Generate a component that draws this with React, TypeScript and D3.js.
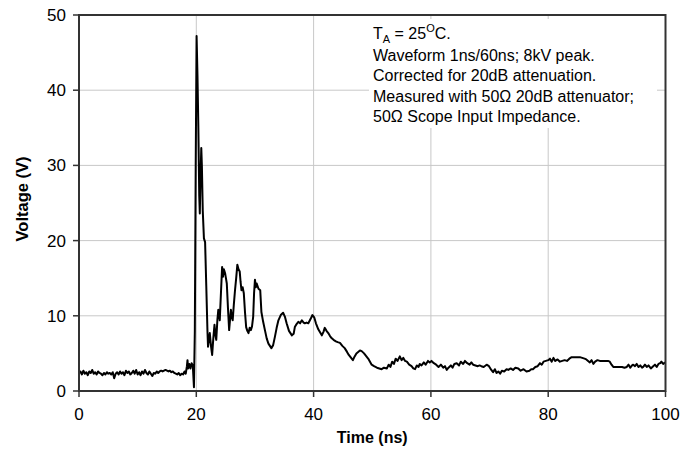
import { line, scaleLinear } from 'd3';

// waveform samples as [time (ns), voltage (V)]
const baseline: [number, number][] = [
  [0, 2.4], [0.25, 2.6], [0.5, 2.2], [0.75, 2.7], [1, 2.3], [1.25, 2.5], [1.5, 2.1], [1.75, 2.6],
  [2, 2.4], [2.25, 2.8], [2.5, 2.3], [2.75, 2.5], [3, 2.2], [3.25, 2.6], [3.5, 2.4], [3.75, 2.3],
  [4, 2.1], [4.25, 2.4], [4.5, 2.2], [4.75, 2.5], [5, 2.3], [5.25, 2.4], [5.5, 2.2], [5.75, 2.5],
  [6, 1.7], [6.25, 2.3], [6.5, 2.5], [6.75, 2.2], [7, 2.6], [7.25, 2.3], [7.5, 2.5], [7.75, 2.1],
  [8, 2.7], [8.25, 2.4], [8.5, 2.6], [8.75, 2.2], [9, 2.4], [9.25, 2.7], [9.5, 2.3], [9.75, 2.8],
  [10, 2.2], [10.25, 2.5], [10.5, 2.1], [10.75, 2.6], [11, 2.3], [11.25, 2.8], [11.5, 2.4], [11.75, 2.2],
  [12, 2.6], [12.25, 2.3], [12.5, 2.0], [12.75, 2.4], [13, 2.3], [13.25, 2.6], [13.5, 2.4], [13.75, 2.6],
  [14, 2.7], [14.25, 2.6], [14.5, 2.7], [14.75, 2.8], [15, 2.7], [15.25, 2.6], [15.5, 2.7], [15.75, 2.5],
  [16, 2.6], [16.25, 2.4], [16.5, 2.3], [16.75, 2.2], [17, 2.4], [17.25, 2.1], [17.5, 2.3], [17.75, 2.2],
  [18, 2.6], [18.2, 2.3], [18.4, 3.3], [18.5, 4.1], [18.6, 3.0], [18.8, 3.6], [19, 3.0], [19.2, 3.7],
  [19.4, 3.4], [19.6, 0.5],
];

const pulse: [number, number][] = [
  [19.75, 8], [19.9, 30], [20.05, 47.2], [20.2, 42], [20.35, 35], [20.5, 26], [20.6, 23.6], [20.7, 28],
  [20.85, 32.3], [20.95, 30], [21.1, 24], [21.3, 20.3], [21.5, 19.8], [21.7, 14], [21.9, 8], [22.0, 5.9],
  [22.15, 6.8], [22.3, 7.7], [22.5, 6], [22.7, 4.8], [22.9, 7], [23.1, 8.8], [23.25, 7.5], [23.4, 6.8],
  [23.6, 9.5], [23.75, 10.8], [23.9, 10.2], [24.0, 9.4], [24.2, 13], [24.4, 16.5], [24.55, 15.2], [24.7, 16.2],
  [24.9, 15.7], [25.05, 15], [25.2, 14.3], [25.4, 11], [25.6, 8.1], [25.75, 9.5], [25.9, 10.8], [26.05, 9.8],
  [26.2, 9.4], [26.4, 11.5], [26.6, 13.4], [26.8, 15], [27.0, 16.8], [27.2, 16.2], [27.4, 15.9], [27.55, 14.5],
  [27.7, 13.4], [27.9, 13.8], [28.1, 13], [28.3, 10.5], [28.5, 8.5], [28.7, 8.0], [28.9, 7.7], [29.1, 8.4],
  [29.3, 8.1], [29.5, 8.6], [29.7, 9.9], [29.85, 13], [30.0, 14.8], [30.15, 13.8], [30.3, 14.3], [30.6, 13.6],
  [30.9, 13.4], [31.1, 10.5], [31.4, 9.2], [31.7, 8.1], [32.0, 7],
];

const ringing: [number, number][] = [
  [32.3, 6.3], [32.8, 5.7], [33.1, 6.1], [33.4, 7.2], [33.7, 8.4], [34.0, 9.4], [34.4, 10.1], [34.8, 10.4],
  [35.1, 9.9], [35.4, 9.0], [35.8, 8.0], [36.3, 7.4], [36.6, 7.6], [36.8, 8.5], [37.1, 8.9], [37.4, 9.2],
  [37.7, 9.0], [38.0, 9.4], [38.3, 9.1], [38.5, 9.0], [38.8, 9.1], [39.1, 9.0], [39.5, 9.6], [39.8, 10.1],
  [40.1, 9.8], [40.4, 9.0], [40.8, 8.2], [41.1, 7.8], [41.4, 7.4], [41.7, 7.9], [41.9, 8.4], [42.2, 8.0],
  [42.5, 7.7], [42.8, 7.3], [43.1, 7.0], [43.4, 6.8], [43.8, 6.6], [44.1, 6.5], [44.5, 6.4], [44.9, 6.0],
  [45.3, 5.7], [45.7, 5.2], [46.0, 4.8], [46.4, 4.4], [46.7, 4.1], [47.0, 4.6], [47.3, 5.0], [47.6, 5.2],
  [47.9, 5.4], [48.2, 5.3], [48.6, 5.0], [49.0, 4.6], [49.4, 4.2], [49.9, 3.5],
];

const tail: [number, number][] = [
  [50.3, 3.3], [50.8, 3.1], [51.2, 3.0], [51.6, 2.9], [52.0, 3.1], [52.5, 3.0], [52.8, 3.5], [53.1, 3.2],
  [53.4, 3.9], [53.7, 3.6], [54.0, 4.3], [54.3, 4.0], [54.7, 4.6], [55.0, 4.1], [55.3, 4.4], [55.6, 4.0],
  [55.9, 3.9], [56.3, 3.5], [56.7, 3.3], [57.0, 3.0], [57.3, 2.9], [57.6, 3.4], [57.9, 3.2], [58.1, 3.6],
  [58.4, 3.4], [58.8, 3.8], [59.1, 3.5], [59.5, 4.0], [59.8, 3.8], [60.1, 4.0], [60.5, 3.7], [60.9, 3.5],
  [61.3, 3.2], [61.7, 3.5], [62.1, 3.1], [62.4, 3.3], [62.7, 2.8], [63.0, 3.1], [63.4, 3.4], [63.7, 3.1],
  [64.0, 3.6], [64.4, 3.7], [64.8, 3.4], [65.1, 3.9], [65.5, 3.6], [65.8, 4.0], [66.2, 3.7], [66.6, 3.5],
  [66.9, 3.8], [67.2, 3.5], [67.6, 3.4], [68.0, 3.3], [68.3, 3.4], [68.6, 3.3], [69.0, 3.2], [69.5, 3.5],
  [69.9, 3.3], [70.3, 2.8], [70.6, 2.5], [70.9, 2.9], [71.2, 2.4], [71.5, 2.6], [71.8, 2.3], [72.1, 2.7],
  [72.5, 2.6], [72.9, 2.9], [73.2, 2.8], [73.6, 3.0], [74.0, 2.8], [74.4, 3.1], [74.9, 3.0], [75.3, 2.7],
  [75.8, 2.9], [76.3, 2.6], [76.8, 2.7], [77.1, 2.9], [77.4, 2.9], [77.8, 3.2], [78.2, 3.3], [78.6, 3.7],
  [78.9, 3.5], [79.2, 3.9], [79.6, 4.0], [80.0, 4.1], [80.3, 4.3], [80.6, 3.9], [80.9, 4.4], [81.2, 4.0],
  [81.6, 4.2], [82.0, 3.9], [82.4, 4.0], [82.8, 4.1], [83.2, 4.0], [83.6, 4.3], [84.0, 4.5], [84.5, 4.5],
  [85.0, 4.5], [85.4, 4.5], [85.8, 4.4], [86.2, 4.3], [86.5, 4.2], [86.8, 4.0], [87.1, 3.8], [87.4, 4.1],
  [87.7, 3.6], [88.0, 3.9], [88.4, 4.1], [88.8, 4.0], [89.3, 4.0], [89.8, 4.0], [90.2, 4.0], [90.5, 3.9],
  [90.8, 3.5], [91.1, 3.2], [91.6, 3.2], [92.1, 3.2], [92.6, 3.2], [93.0, 3.1], [93.4, 3.2], [93.7, 3.5],
  [94.0, 3.1], [94.3, 3.4], [94.5, 3.5], [94.8, 3.3], [95.1, 3.6], [95.4, 3.2], [95.7, 3.4], [96.0, 3.1],
  [96.2, 3.2], [96.5, 3.5], [96.8, 3.2], [97.1, 3.4], [97.5, 3.0], [97.9, 3.3], [98.2, 3.5], [98.5, 3.2],
  [98.8, 3.6], [99.1, 3.7], [99.3, 3.9], [99.6, 3.6], [100, 3.8],
];

const xTicks = [0, 20, 40, 60, 80, 100];
const yTicks = [0, 10, 20, 30, 40, 50];

const notes = [
  'Waveform 1ns/60ns; 8kV peak.',
  'Corrected for 20dB attenuation.',
  'Measured with 50\u03A9 20dB attenuator;',
  '50\u03A9 Scope Input Impedance.',
];

const width = 696;
const height = 454;
const plot = { left: 79, right: 665.5, top: 15, bottom: 391 };
const font = '"Liberation Sans", Arial, sans-serif';

export default function App() {
  const x = scaleLinear().domain([0, 100]).range([plot.left, plot.right]);
  const y = scaleLinear().domain([0, 50]).range([plot.bottom, plot.top]);

  const data = [...baseline, ...pulse, ...ringing, ...tail];
  const path = line<[number, number]>()
    .x(d => x(d[0]))
    .y(d => y(d[1]))(data);

  return (
    <svg width={width} height={height} style={{ position: 'absolute', left: 0, top: 0, background: '#fff' }} fontFamily={font}>
      {/* grid */}
      {yTicks.slice(1, -1).map(t => (
        <line key={`gy${t}`} x1={plot.left} x2={plot.right} y1={y(t)} y2={y(t)} stroke="#c8c8c8" strokeWidth={1} />
      ))}
      {xTicks.slice(1, -1).map(t => (
        <line key={`gx${t}`} x1={x(t)} x2={x(t)} y1={plot.top} y2={plot.bottom} stroke="#c8c8c8" strokeWidth={1} />
      ))}

      {/* note box hides the grid behind the text */}
      <rect x={369} y={19} width={288} height={109} fill="#fff" />
      <text x={373} y={39} fontSize={16} fill="#000">
        T<tspan fontSize={11} dy={4}>A</tspan>
        <tspan dy={-4}> = 25</tspan>
        <tspan fontSize={11} dy={-7}>O</tspan>
        <tspan dy={7}>C.</tspan>
      </text>
      {notes.map((n, i) => (
        <text key={n} x={373} y={61 + i * 20.3} fontSize={16} fill="#000">{n}</text>
      ))}

      {/* waveform */}
      {path && <path d={path} fill="none" stroke="#000" strokeWidth={2} strokeLinejoin="round" />}

      {/* frame */}
      <rect x={plot.left} y={plot.top} width={plot.right - plot.left} height={plot.bottom - plot.top} fill="none" stroke="#333" strokeWidth={2} />

      {/* axes ticks and labels */}
      {yTicks.map(t => (
        <g key={`yt${t}`}>
          <line x1={plot.left - 6} x2={plot.left} y1={y(t)} y2={y(t)} stroke="#333" strokeWidth={1.5} />
          <text x={plot.left - 13} y={y(t) + 6} textAnchor="end" fontSize={17} fill="#000">{t}</text>
        </g>
      ))}
      {xTicks.map(t => (
        <g key={`xt${t}`}>
          <line x1={x(t)} x2={x(t)} y1={plot.bottom} y2={plot.bottom + 6} stroke="#333" strokeWidth={1.5} />
          <text x={x(t)} y={420} textAnchor="middle" fontSize={17} fill="#000">{t}</text>
        </g>
      ))}
      <text x={(plot.left + plot.right) / 2} y={443} textAnchor="middle" fontSize={16} fontWeight="bold" fill="#000">Time (ns)</text>
      <text transform={`translate(28,${(plot.top + plot.bottom) / 2 - 4}) rotate(-90)`} textAnchor="middle" fontSize={16.5} fontWeight="bold" fill="#000">Voltage (V)</text>
    </svg>
  );
}
